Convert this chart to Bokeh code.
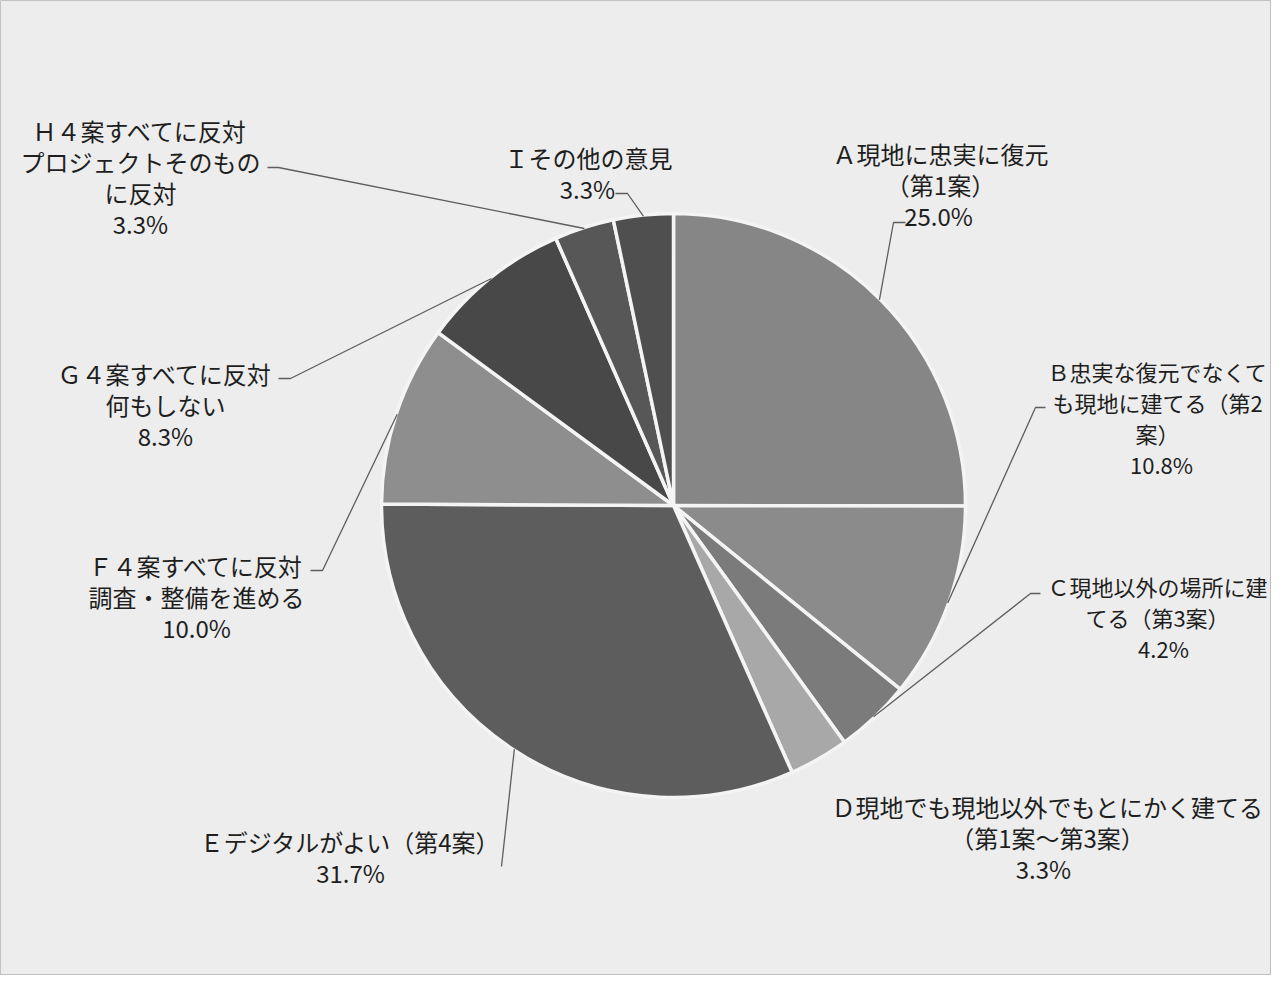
import math
from bokeh.plotting import figure
from bokeh.models import Range1d, ColumnDataSource
from bokeh.core.properties import value
from bokeh.embed import file_html
from bokeh.resources import INLINE

# ---- data ----
codes = ["A", "B", "C", "D", "E", "F", "G", "H", "I"]
values = [25.0, 10.8, 4.2, 3.3, 31.7, 10.0, 8.3, 3.3, 3.3]
pct_labels = ["25.0%", "10.8%", "4.2%", "3.3%", "31.7%", "10.0%", "8.3%", "3.3%", "3.3%"]
label_A = ["Ａ現地に忠実に復元", "（第1案）"]
label_B = ["Ｂ忠実な復元でなくて", "も現地に建てる（第2", "案）"]
label_C = ["Ｃ現地以外の場所に建", "てる（第3案）"]
label_D = ["Ｄ現地でも現地以外でもとにかく建てる", "（第1案～第3案）"]
label_E = ["Ｅデジタルがよい（第4案）"]
label_F = ["Ｆ４案すべてに反対", "調査・整備を進める"]
label_G = ["Ｇ４案すべてに反対", "何もしない"]
label_H = ["Ｈ４案すべてに反対", "プロジェクトそのもの", "に反対"]
label_I = ["Ｉその他の意見"]
label_lines = [label_A, label_B, label_C, label_D, label_E, label_F, label_G, label_H, label_I]

# ---- styles / layout ----
colors = ["#868686", "#8b8b8b", "#7b7b7b", "#a8a8a8", "#5d5d5d",
          "#8e8e8e", "#484848", "#575757", "#4f4f4f"]
W, H = 1271, 975
SH = 991  # screen height used to flip y


def Y(sy):
    return SH - sy


cx, cy, R = 673, Y(505), 292
# label layout: centre x, y of first line (screen), font size
label_pos = {
    "A": (940, 153), "B": (1157, 370), "C": (1157, 585), "D": (1047, 806),
    "E": (350, 841), "F": (196, 565), "G": (165, 373), "H": (140, 130), "I": (588, 157),
}
label_size = {"B": "22px", "C": "22px"}
pct_dx = {"A": -2, "B": 4, "C": 6, "D": -4, "E": 0, "F": 0, "G": 0, "H": 0, "I": -1}
LS = 31
# leader starts (screen coords): start point, elbow
leaders = {
    "A": [(905, 222), (893, 222)],
    "B": [(1045, 407), (1035, 407)],
    "C": [(1040, 593), (1030, 593)],
    "E": [(501, 866)],
    "F": [(310, 570), (322, 570)],
    "G": [(278, 378), (290, 378)],
    "H": [(267, 167), (278, 167)],
    "I": [(615, 193), (627, 193)],
}

p = figure(width=W, height=H, x_range=Range1d(0, W), y_range=Range1d(SH - H, SH),
           output_backend="svg", toolbar_location=None, min_border=0)
p.axis.visible = False
p.grid.visible = False
p.background_fill_color = "#ededed"
p.border_fill_color = "#ededed"
p.outline_line_color = "#a0a0a0"
p.outline_line_alpha = 0.6

total = sum(values)
starts, ends, mids = [], [], []
acc = 0.0
for v in values:
    a0 = math.pi / 2 - 2 * math.pi * acc / total
    acc += v
    a1 = math.pi / 2 - 2 * math.pi * acc / total
    starts.append(a0)
    ends.append(a1)
    mids.append((a0 + a1) / 2)

src = ColumnDataSource(dict(start=starts, end=ends, color=colors, code=codes, val=values))
p.wedge(x=cx, y=cy, radius=R, start_angle="start", end_angle="end", direction="clock",
        fill_color="color", line_color="#f4f4f4", line_width=3.5, source=src)

# leader lines
xs, ys = [], []
for i, c in enumerate(codes):
    if c not in leaders:
        continue
    pts = leaders[c]
    ex = cx + (R - 1) * math.cos(mids[i])
    ey = cy + (R - 1) * math.sin(mids[i])
    xs.append([pt[0] for pt in pts] + [ex])
    ys.append([Y(pt[1]) for pt in pts] + [ey])
p.multi_line(xs=xs, ys=ys, line_color="#5e5e5e", line_width=1.3)

# labels
tx, ty, tt, ts = [], [], [], []
for i, c in enumerate(codes):
    lx, ly = label_pos[c]
    fs = label_size.get(c, "24px")
    lines = label_lines[i]
    for j, ln in enumerate(lines):
        tx.append(lx)
        ty.append(Y(ly + j * LS))
        tt.append(ln)
        ts.append(fs)
    tx.append(lx + pct_dx[c])
    ty.append(Y(ly + len(lines) * LS))
    tt.append(pct_labels[i])
    ts.append(fs)

tsrc = ColumnDataSource(dict(x=tx, y=ty, text=tt, size=ts))
p.text(x="x", y="y", text="text", text_align="center", text_baseline="middle",
       text_font=value("Noto Sans CJK JP"), text_font_size="size", text_color="#1e1e1e",
       source=tsrc)

open("out.html", "w").write(file_html(p, INLINE))
